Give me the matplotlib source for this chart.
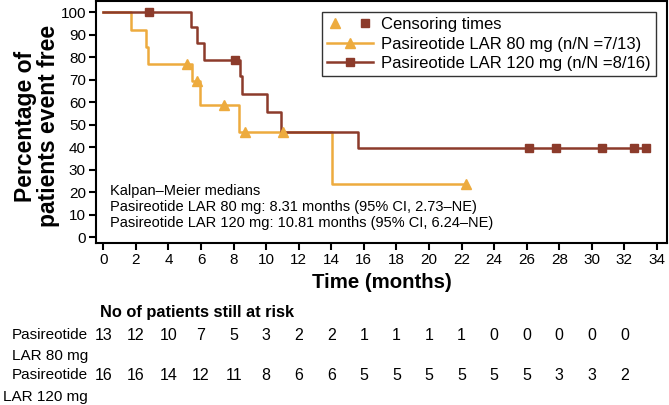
import matplotlib
matplotlib.use("Agg")
import matplotlib.pyplot as plt
import matplotlib.transforms as mtransforms
from matplotlib.lines import Line2D
from matplotlib.legend_handler import HandlerTuple

plt.rcParams['font.family'] = ['Liberation Sans', 'DejaVu Sans']

orange = '#EDAB3E'
brown = '#8C3B2B'

# step curves (time in months, % event free)
t80 = [0, 1.7, 2.6, 2.75, 5.43, 5.94, 8.34, 14.04, 22.3]
s80 = [100, 92.3, 84.6, 76.9, 69.5, 58.6, 46.9, 23.4, 23.4]
cens80_t = [5.12, 5.78, 7.39, 8.69, 11.06, 22.3]
cens80_s = [76.9, 69.5, 58.6, 46.9, 46.9, 23.4]

t120 = [0, 5.37, 5.78, 6.21, 8.38, 8.52, 10.07, 10.94, 15.65, 33.3]
s120 = [100, 93.3, 86.5, 78.8, 71.7, 63.5, 55.8, 46.9, 39.6, 39.6]
cens120_t = [2.79, 8.11, 26.17, 27.77, 30.6, 32.6, 33.3]
cens120_s = [100, 78.8, 39.6, 39.6, 39.6, 39.6, 39.6]

risk_times = list(range(0, 34, 2))
risk80 = [13, 12, 10, 7, 5, 3, 2, 2, 1, 1, 1, 1, 0, 0, 0, 0, 0]
risk120 = [16, 16, 14, 12, 11, 8, 6, 6, 5, 5, 5, 5, 5, 5, 3, 3, 2]

fig = plt.figure(figsize=(6.69, 4.05), dpi=100)
ax = fig.add_axes([0.143, 0.399, 0.8536, 0.5985])

ax.step(t80, s80, where='post', color=orange, lw=1.8)
ax.step(t120, s120, where='post', color=brown, lw=1.8)
ax.plot(cens80_t, cens80_s, ls='none', marker='^', ms=7, color=orange)
ax.plot(cens120_t, cens120_s, ls='none', marker='s', ms=6, color=brown)

ax.set_xlim(-0.47, 34.6)
ax.set_ylim(-2.8, 105)
ax.set_xticks(range(0, 35, 2))
ax.set_yticks(range(0, 101, 10))
ax.tick_params(direction='out', length=5, width=1.5, labelsize=11, pad=2)
for sp in ax.spines.values():
    sp.set_linewidth(1.5)

fig.text(382 / 669, 1 - 283 / 405, 'Time (months)', fontsize=14.7,
         fontweight='bold', ha='center', va='center')
fig.text(37 / 669, 1 - 126 / 405, 'Percentage of\npatients event free',
         fontsize=16.5, fontweight='bold', rotation=90, ha='center',
         va='center', multialignment='center', linespacing=1.0)

h_tri = Line2D([], [], ls='none', marker='^', ms=7, color=orange)
h_sq = Line2D([], [], ls='none', marker='s', ms=6, color=brown)
h80 = Line2D([], [], color=orange, lw=1.8, marker='^', ms=7)
h120 = Line2D([], [], color=brown, lw=1.8, marker='s', ms=6)
leg = ax.legend([(h_tri, h_sq), h80, h120],
                ['Censoring times', 'Pasireotide LAR 80 mg (n/N =7/13)',
                 'Pasireotide LAR 120 mg (n/N =8/16)'],
                handler_map={tuple: HandlerTuple(ndivide=None, pad=0.9)},
                loc='upper right', bbox_to_anchor=(0.981, 0.955),
                borderaxespad=0,
                fontsize=12, handlelength=2.75, handletextpad=0.5,
                labelspacing=0.28, borderpad=0.3, fancybox=False,
                edgecolor='#333333', framealpha=1)
leg.get_frame().set_linewidth(1.0)

ax.text(0.025, 0.15,
        'Kalpan\u2013Meier medians\n'
        'Pasireotide LAR 80 mg: 8.31 months (95% CI, 2.73\u2013NE)\n'
        'Pasireotide LAR 120 mg: 10.81 months (95% CI, 6.24\u2013NE)',
        transform=ax.transAxes, fontsize=10.5, va='center', ha='left',
        linespacing=1.17)

# at-risk table
trans = mtransforms.blended_transform_factory(ax.transData, fig.transFigure)
fig.text(100 / 669, 1 - 313 / 405, 'No of patients still at risk',
         fontsize=11.8, fontweight='bold', va='center', ha='left')
for t, a, b in zip(risk_times, risk80, risk120):
    ax.text(t, 1 - 335 / 405, str(a), transform=trans, fontsize=11.5,
            ha='center', va='center')
    ax.text(t, 1 - 375 / 405, str(b), transform=trans, fontsize=11.5,
            ha='center', va='center')
fig.text(50 / 669, 1 - 335 / 405, 'Pasireotide', fontsize=11, ha='center', va='center')
fig.text(50 / 669, 1 - 356 / 405, 'LAR 80 mg', fontsize=11, ha='center', va='center')
fig.text(50 / 669, 1 - 375 / 405, 'Pasireotide', fontsize=11, ha='center', va='center')
fig.text(45 / 669, 1 - 397 / 405, 'LAR 120 mg', fontsize=11, ha='center', va='center')

fig.savefig('out.png', dpi=100)
